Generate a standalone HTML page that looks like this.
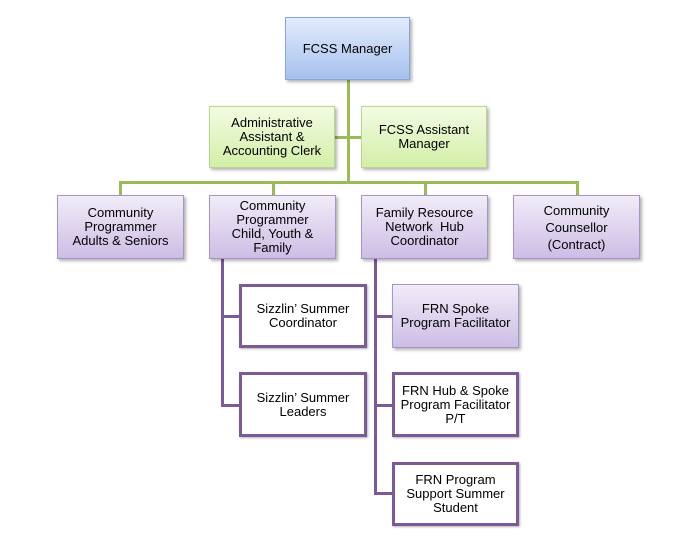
<!DOCTYPE html>
<html><head><style>
body{margin:0;width:682px;height:549px;background:#fff;position:relative;font-family:"Liberation Sans",Arial,sans-serif;overflow:hidden}
.b{position:absolute;box-sizing:border-box;display:flex;align-items:center;justify-content:center;text-align:center;font-size:13px;line-height:14px;color:#000}
.blue{background:linear-gradient(#e2ebfb,#a7c1ee);border:1px solid #8aa6d4;box-shadow:2px 2px 3px rgba(0,0,0,.3)}
.green{background:linear-gradient(#f3fbe3,#d3efa8);border:1px solid #b9d88a;box-shadow:2px 2px 3px rgba(0,0,0,.3)}
.purp{background:linear-gradient(#f1ecf8,#cdbde5);border:1px solid #a893c6;box-shadow:2px 2px 3px rgba(0,0,0,.3)}
.wh{background:#fff;border:3px solid #7b5a96;box-shadow:1px 1px 2px rgba(0,0,0,.3)}
.l{position:absolute}
.g{background:#9bbb59}
.p{background:#7b5a96}
</style></head><body>
<div class="l g" style="left:347px;top:80px;width:3px;height:104px"></div>
<div class="l g" style="left:335px;top:136px;width:26px;height:3px"></div>
<div class="l g" style="left:119px;top:181px;width:460px;height:3px"></div>
<div class="l g" style="left:119px;top:181px;width:3px;height:14px"></div>
<div class="l g" style="left:272px;top:181px;width:3px;height:14px"></div>
<div class="l g" style="left:424px;top:181px;width:3px;height:14px"></div>
<div class="l g" style="left:576px;top:181px;width:3px;height:14px"></div>

<div class="l p" style="left:221px;top:259px;width:3px;height:148px"></div>
<div class="l p" style="left:221px;top:315px;width:18px;height:3px"></div>
<div class="l p" style="left:221px;top:404px;width:18px;height:3px"></div>
<div class="l p" style="left:374px;top:259px;width:3px;height:236px"></div>
<div class="l p" style="left:374px;top:315px;width:18px;height:3px"></div>
<div class="l p" style="left:374px;top:404px;width:18px;height:3px"></div>
<div class="l p" style="left:374px;top:492px;width:18px;height:3px"></div>

<div class="b blue" style="left:285px;top:17px;width:125px;height:63px">FCSS Manager</div>
<div class="b green" style="left:209px;top:106px;width:126px;height:62px">Administrative<br>Assistant &amp;<br>Accounting Clerk</div>
<div class="b green" style="left:361px;top:106px;width:126px;height:62px">FCSS Assistant<br>Manager</div>

<div class="b purp" style="left:57px;top:195px;width:127px;height:64px">Community<br>Programmer<br>Adults &amp; Seniors</div>
<div class="b purp" style="left:209px;top:195px;width:127px;height:64px">Community<br>Programmer<br>Child, Youth &amp;<br>Family</div>
<div class="b purp" style="left:361px;top:195px;width:127px;height:64px">Family Resource<br>Network &nbsp;Hub<br>Coordinator</div>
<div class="b purp" style="left:513px;top:195px;width:127px;height:64px;line-height:17px">Community<br>Counsellor<br>(Contract)</div>

<div class="b wh" style="left:239px;top:284px;width:128px;height:64px">Sizzlin’ Summer<br>Coordinator</div>
<div class="b wh" style="left:239px;top:372px;width:128px;height:65px">Sizzlin’ Summer<br>Leaders</div>
<div class="b purp" style="left:392px;top:284px;width:127px;height:64px">FRN Spoke<br>Program Facilitator</div>
<div class="b wh" style="left:392px;top:372px;width:127px;height:65px">FRN Hub &amp; Spoke<br>Program Facilitator<br>P/T</div>
<div class="b wh" style="left:392px;top:462px;width:127px;height:64px">FRN Program<br>Support Summer<br>Student</div>
</body></html>
